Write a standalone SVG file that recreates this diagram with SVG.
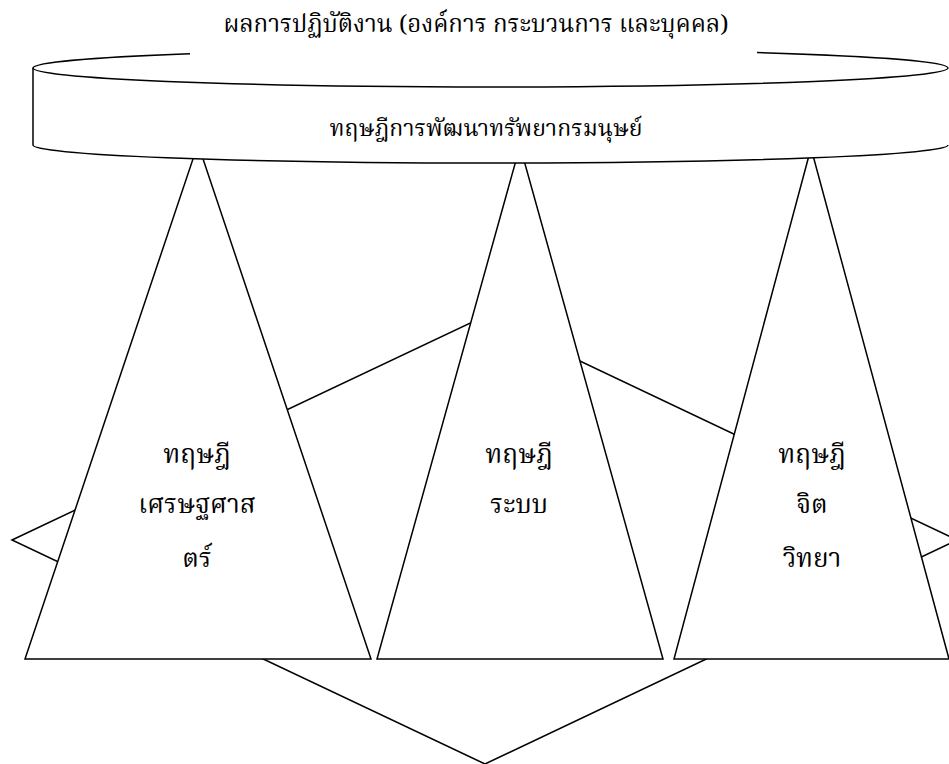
<svg xmlns="http://www.w3.org/2000/svg" width="949" height="764" viewBox="0 0 949 764">
<style>
.ln{fill:#fff;stroke:#000;stroke-width:1.5;stroke-linejoin:miter}
.st{fill:none;stroke:#000;stroke-width:1.5}
.t{font-family:"Noto Serif Thai","Noto Sans Thai","Liberation Serif","DejaVu Serif",serif;fill:#000;text-anchor:middle}
.title{font-size:24px}
.sub{font-size:23px}
.lbl{font-size:26px}
</style>
<rect width="949" height="764" fill="#fff"/>
<g id="connectors">
<polygon class="ln" points="12,540 485,316 957,540 485,764"/>
</g>
<g id="tri-econ">
<polygon class="ln" points="198,144 371,659 25,659"/>
<text class="t lbl" x="197" y="463">ทฤษฎี</text>
<text class="t lbl" x="197" y="513">เศรษฐศาส</text>
<text class="t lbl" x="197" y="567">ตร์</text>
</g>
<g id="tri-system">
<polygon class="ln" points="520,146 663,659 377,659"/>
<text class="t lbl" x="519" y="463">ทฤษฎี</text>
<text class="t lbl" x="519" y="513">ระบบ</text>
</g>
<g id="tri-psych">
<polygon class="ln" points="811,148 949,659 674,659"/>
<text class="t lbl" x="812" y="463">ทฤษฎี</text>
<text class="t lbl" x="812" y="513">จิต</text>
<text class="t lbl" x="812" y="567">วิทยา</text>
</g>
<g id="cylinder">
<path d="M33,68 L33,145 A457.5,18 0 0 0 948,145 L948,68 Z" fill="#fff" stroke="none"/>
<path class="st" d="M33,68 L33,145 A457.5,18 0 0 0 948,145"/>
<path class="st" d="M33,68 A457.5,19 0 0 0 948,68"/>
<path class="st" d="M33,68 A457.5,19 0 0 1 190,53.7"/>
<path class="st" d="M757,52.6 A457.5,19 0 0 1 948,68"/>
<text class="t sub" x="486" y="136">ทฤษฎีการพัฒนาทรัพยากรมนุษย์</text>
</g>
<g id="title">
<text class="t title" x="476" y="32">ผลการปฏิบัติงาน (องค์การ กระบวนการ และบุคคล)</text>
</g>
</svg>
